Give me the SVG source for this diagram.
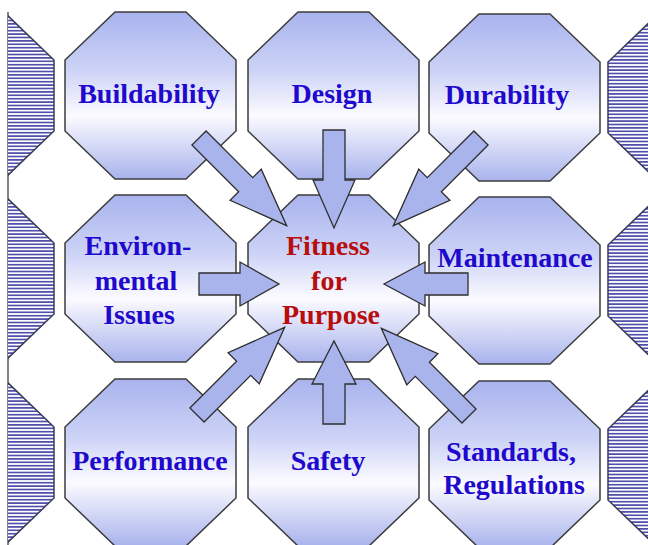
<svg xmlns="http://www.w3.org/2000/svg" width="648" height="545" viewBox="0 0 648 545">
  <defs>
    <linearGradient id="octFill" x1="0" y1="0" x2="0" y2="1">
      <stop offset="0" stop-color="#a9b3ee"/>
      <stop offset="0.35" stop-color="#cdd3f6"/>
      <stop offset="0.62" stop-color="#fbfbff"/>
      <stop offset="1" stop-color="#a9b3ec"/>
    </linearGradient>
    <pattern id="hatch" patternUnits="userSpaceOnUse" width="10" height="3.4">
      <rect width="10" height="3.4" fill="#ffffff"/>
      <rect y="0.9" width="10" height="1.6" fill="#4747a6"/>
    </pattern>
    <clipPath id="leftClip">
      <rect x="8" y="0" width="100" height="545"/>
    </clipPath>
    <polygon id="oct" points="50,0 121,0 171,48 171,119 121,167 50,167 0,119 0,48"/>
    <polygon id="diag" points="0,-10 66,-10 66,-22 124,0 66,22 66,10 0,10"/>
  </defs>
  <style>
    .oct { fill: url(#octFill); stroke: #3c3c3c; stroke-width: 1.5; }
    .hat { fill: url(#hatch); stroke: #3a3a5a; stroke-width: 1.5; }
    .arrow { fill: #a9b4ec; stroke: #2e2e2e; stroke-width: 1.3; stroke-linejoin: miter; }
    .lbl { font-family: "Liberation Serif", "Times New Roman", serif; font-weight: bold; font-size: 28px; fill: #2008cc; text-anchor: middle; }
    .ctr { fill: #b80d0d; }
  </style>

  <rect width="648" height="545" fill="#ffffff"/>

  <g id="edge-left">
    <line x1="8" y1="12" x2="8" y2="545" stroke="#5a5a5a" stroke-width="1.5"/>
    <g clip-path="url(#leftClip)">
      <use href="#oct" class="hat" transform="translate(-117,12)"/>
      <use href="#oct" class="hat" transform="translate(-117,195)"/>
      <use href="#oct" class="hat" transform="translate(-117,379)"/>
    </g>
  </g>
  <g id="edge-right">
    <use href="#oct" class="hat" transform="translate(608,14)"/>
    <use href="#oct" class="hat" transform="translate(608,197)"/>
    <use href="#oct" class="hat" transform="translate(608,381)"/>
  </g>

  <g id="buildability">
    <use href="#oct" class="oct" transform="translate(65,12)"/>
    <text class="lbl" x="149" y="103">Buildability</text>
  </g>
  <g id="design">
    <use href="#oct" class="oct" transform="translate(248,12)"/>
    <text class="lbl" x="332" y="103">Design</text>
  </g>
  <g id="durability">
    <use href="#oct" class="oct" transform="translate(429,14)"/>
    <text class="lbl" x="507" y="104">Durability</text>
  </g>
  <g id="environmental">
    <use href="#oct" class="oct" transform="translate(65,195)"/>
    <text class="lbl" x="138" y="255">Environ-</text>
    <text class="lbl" x="136" y="290">mental</text>
    <text class="lbl" x="139" y="324">Issues</text>
  </g>
  <g id="fitness">
    <use href="#oct" class="oct" transform="translate(248,195)"/>
    <text class="lbl ctr" x="328" y="255">Fitness</text>
    <text class="lbl ctr" x="329" y="290">for</text>
    <text class="lbl ctr" x="331" y="324">Purpose</text>
  </g>
  <g id="maintenance">
    <use href="#oct" class="oct" transform="translate(429,197)"/>
    <text class="lbl" x="515" y="267">Maintenance</text>
  </g>
  <g id="performance">
    <use href="#oct" class="oct" transform="translate(65,379)"/>
    <text class="lbl" x="150" y="470">Performance</text>
  </g>
  <g id="safety">
    <use href="#oct" class="oct" transform="translate(248,379)"/>
    <text class="lbl" x="328" y="470">Safety</text>
  </g>
  <g id="standards">
    <use href="#oct" class="oct" transform="translate(429,381)"/>
    <text class="lbl" x="511" y="461">Standards,</text>
    <text class="lbl" x="514" y="494">Regulations</text>
  </g>

  <g id="connectors">
    <use href="#diag" class="arrow" transform="translate(199,138) rotate(45)"/>
    <use href="#diag" class="arrow" transform="translate(481,138) rotate(135)"/>
    <use href="#diag" class="arrow" transform="translate(197,415) rotate(-45)"/>
    <use href="#diag" class="arrow" transform="translate(469,416) rotate(-135)"/>
    <polygon class="arrow" points="323,130 345,130 345,180 355,180 334,228 313,180 323,180"/>
    <polygon class="arrow" points="323,424 345,424 345,384 356,384 334,341 312,384 323,384"/>
    <polygon class="arrow" points="199,273 240,273 240,262 279,284 240,306 240,295 199,295"/>
    <polygon class="arrow" points="468,273 425,273 425,262 384,284 425,306 425,295 468,295"/>
  </g>
</svg>
